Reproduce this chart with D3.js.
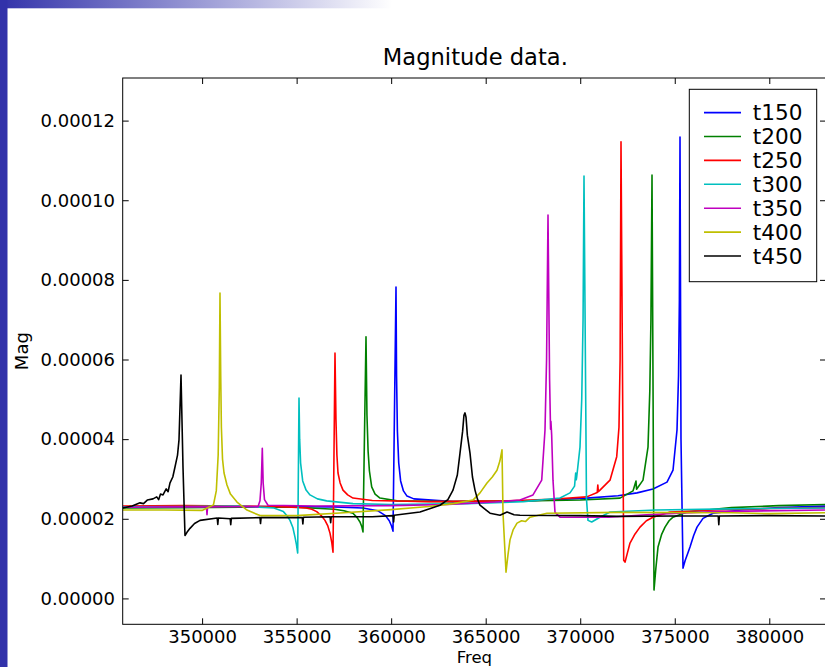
<!DOCTYPE html>
<html>
<head>
<meta charset="utf-8">
<script src="https://cdn.jsdelivr.net/npm/d3@7"></script>
<style>
  html, body { margin: 0; padding: 0; background: #fff; }
  svg { display: block; }
  text { font-family: "DejaVu Sans", sans-serif; fill: #000; }
</style>
</head>
<body>
<svg id="chart" width="825" height="667"></svg>
<script>
// ---------- data (Freq, Mag) ----------
const seriesNames = ["t150", "t200", "t250", "t300", "t350", "t400", "t450"];
const seriesColors = ["#0000ff", "#008000", "#ff0000", "#00bfbf", "#bf00bf", "#bfbf00", "#000000"];

const t150 = [
  [345800, 2.29e-5], [348000, 2.30e-5], [351000, 2.31e-5], [354000, 2.31e-5], [357000, 2.30e-5],
  [358500, 2.27e-5], [359300, 2.20e-5], [359700, 2.08e-5], [359900, 1.95e-5], [360020, 1.82e-5],
  [360097, 1.69e-5], [360256, 7.82e-5], [360285, 5.6e-5], [360330, 4.2e-5], [360400, 3.4e-5],
  [360500, 2.95e-5], [360650, 2.70e-5], [360838, 2.57e-5], [361200, 2.50e-5], [363271, 2.43e-5],
  [366815, 2.44e-5], [370343, 2.52e-5], [372000, 2.58e-5], [373003, 2.65e-5], [373850, 2.75e-5],
  [374590, 2.92e-5], [374908, 3.22e-5], [375119, 4.23e-5], [375200, 5.6e-5], [375245, 7.5e-5],
  [375278, 11.59e-5], [375330, 4.0e-5], [375437, 0.76e-5], [375550, 0.95e-5], [375680, 1.12e-5],
  [375807, 1.29e-5], [376000, 1.58e-5], [376178, 1.79e-5], [376495, 2.01e-5], [377024, 2.14e-5],
  [378500, 2.22e-5], [380500, 2.28e-5], [383000, 2.32e-5]
];
const t200 = [
  [345800, 2.27e-5], [349000, 2.28e-5], [352000, 2.29e-5], [355000, 2.29e-5], [357000, 2.24e-5],
  [357500, 2.20e-5], [357981, 2.14e-5], [358200, 2.03e-5], [358351, 1.92e-5], [358450, 1.80e-5],
  [358510, 1.67e-5], [358669, 6.57e-5], [358720, 4.6e-5], [358780, 3.7e-5], [358850, 3.2e-5],
  [358970, 2.80e-5], [359150, 2.62e-5], [359409, 2.52e-5], [360309, 2.45e-5], [363000, 2.43e-5],
  [367000, 2.45e-5], [370000, 2.47e-5], [372104, 2.52e-5], [372792, 2.70e-5], [372950, 2.95e-5],
  [372980, 2.74e-5], [373321, 2.97e-5], [373585, 3.80e-5], [373680, 5.2e-5], [373740, 7.0e-5],
  [373797, 10.63e-5], [373903, 0.21e-5], [374000, 0.75e-5], [374114, 1.29e-5], [374300, 1.60e-5],
  [374485, 1.79e-5], [374700, 1.95e-5], [374908, 2.04e-5], [375648, 2.17e-5], [378000, 2.28e-5],
  [380500, 2.33e-5], [383000, 2.36e-5]
];
const t250 = [
  [345800, 2.32e-5], [349000, 2.33e-5], [352000, 2.32e-5], [354500, 2.30e-5], [355500, 2.27e-5],
  [355800, 2.24e-5], [356061, 2.18e-5], [356300, 2.08e-5], [356500, 1.96e-5], [356650, 1.82e-5],
  [356764, 1.64e-5], [356860, 1.40e-5], [356924, 1.16e-5], [357029, 6.16e-5], [357080, 4.5e-5],
  [357130, 3.6e-5], [357188, 3.15e-5], [357300, 2.90e-5], [357452, 2.72e-5], [357700, 2.60e-5],
  [357981, 2.52e-5], [359000, 2.46e-5], [362000, 2.43e-5], [366000, 2.45e-5], [368500, 2.49e-5],
  [370343, 2.55e-5], [370900, 2.66e-5], [370930, 2.85e-5], [370960, 2.68e-5], [371046, 2.72e-5],
  [371575, 2.97e-5], [371930, 3.56e-5], [372050, 4.3e-5], [372110, 6.0e-5], [372157, 11.47e-5],
  [372300, 0.96e-5], [372369, 0.91e-5], [372500, 1.15e-5], [372633, 1.39e-5], [372900, 1.62e-5],
  [373162, 1.79e-5], [373500, 1.95e-5], [373850, 2.04e-5], [374749, 2.17e-5], [377000, 2.22e-5],
  [380000, 2.26e-5], [383000, 2.28e-5]
];
const t300 = [
  [345800, 2.30e-5], [349000, 2.31e-5], [352000, 2.32e-5], [353800, 2.27e-5], [354300, 2.18e-5],
  [354500, 2.07e-5], [354649, 1.96e-5], [354800, 1.78e-5], [354913, 1.54e-5], [354990, 1.35e-5],
  [355056, 1.14e-5], [355125, 5.03e-5], [355160, 4.0e-5], [355210, 3.4e-5], [355321, 2.95e-5],
  [355500, 2.72e-5], [355707, 2.60e-5], [356100, 2.50e-5], [356590, 2.45e-5], [357981, 2.38e-5],
  [360000, 2.36e-5], [364000, 2.38e-5], [367000, 2.43e-5], [368930, 2.52e-5], [369459, 2.65e-5],
  [369700, 2.82e-5], [369760, 3.15e-5], [369790, 2.98e-5], [369814, 3.05e-5], [369988, 3.80e-5],
  [370080, 5.0e-5], [370150, 7.0e-5], [370200, 10.61e-5], [370330, 2.5e-5], [370412, 1.96e-5],
  [370607, 1.92e-5], [371046, 2.04e-5], [371575, 2.17e-5], [374000, 2.22e-5], [378000, 2.25e-5],
  [383000, 2.27e-5]
];
const t350 = [
  [345800, 2.29e-5], [348500, 2.30e-5], [350230, 2.30e-5], [350259, 2.10e-5], [350290, 2.30e-5],
  [352500, 2.31e-5], [352956, 2.30e-5], [353060, 2.45e-5], [353130, 2.9e-5], [353184, 3.77e-5],
  [353230, 2.9e-5], [353300, 2.48e-5], [353485, 2.34e-5], [356000, 2.32e-5], [360000, 2.33e-5],
  [363000, 2.36e-5], [365500, 2.42e-5], [366815, 2.47e-5], [367503, 2.60e-5], [367963, 2.97e-5],
  [368137, 4.23e-5], [368220, 6.0e-5], [368296, 9.63e-5], [368380, 5.5e-5], [368430, 4.25e-5],
  [368450, 4.45e-5], [368490, 4.1e-5], [368560, 2.97e-5], [368666, 2.16e-5], [368930, 2.04e-5],
  [371500, 2.04e-5], [373500, 2.10e-5], [377000, 2.18e-5], [383000, 2.22e-5]
];
const t400 = [
  [345800, 2.22e-5], [348000, 2.22e-5], [350000, 2.21e-5], [350600, 2.35e-5], [350750, 2.70e-5],
  [350850, 3.6e-5], [350910, 5.3e-5], [350946, 7.67e-5], [350985, 5.6e-5], [351020, 4.3e-5],
  [351080, 3.5e-5], [351160, 3.15e-5], [351316, 2.85e-5], [351500, 2.62e-5], [351845, 2.42e-5],
  [352374, 2.22e-5], [353062, 2.08e-5], [355000, 2.08e-5], [357500, 2.15e-5], [360000, 2.23e-5],
  [362000, 2.31e-5], [363300, 2.38e-5], [364328, 2.47e-5], [364700, 2.65e-5], [365069, 2.90e-5],
  [365350, 3.05e-5], [365598, 3.22e-5], [365750, 3.45e-5], [365863, 3.73e-5], [365916, 2.14e-5],
  [366075, 0.66e-5], [366180, 1.10e-5], [366286, 1.47e-5], [366450, 1.72e-5], [366657, 1.89e-5],
  [366900, 1.95e-5], [367100, 1.93e-5], [367344, 2.04e-5], [368243, 2.14e-5], [372000, 2.16e-5],
  [378000, 2.15e-5], [380000, 2.13e-5], [383000, 2.15e-5]
];
const t450 = [
  [345800, 2.27e-5], [346300, 2.32e-5], [346715, 2.40e-5], [346900, 2.38e-5], [347100, 2.47e-5],
  [347403, 2.50e-5], [347600, 2.55e-5], [347700, 2.48e-5], [347800, 2.62e-5], [347932, 2.60e-5],
  [348100, 2.75e-5], [348200, 2.68e-5], [348302, 2.90e-5], [348450, 3.05e-5], [348566, 3.30e-5],
  [348700, 3.6e-5], [348778, 3.98e-5], [348884, 5.61e-5], [348989, 3.30e-5], [349095, 1.58e-5],
  [349200, 1.66e-5], [349360, 1.76e-5], [349600, 1.88e-5], [349889, 1.96e-5], [350800, 2.02e-5],
  [350830, 1.86e-5], [350860, 2.02e-5], [351485, 2.00e-5], [351515, 1.85e-5], [351545, 2.01e-5],
  [353062, 2.03e-5], [353090, 1.88e-5], [353120, 2.03e-5], [355300, 2.03e-5], [355330, 1.87e-5],
  [355360, 2.04e-5], [356770, 2.05e-5], [356800, 1.90e-5], [356830, 2.05e-5], [359000, 2.05e-5],
  [360100, 2.08e-5], [360130, 1.92e-5], [360160, 2.09e-5], [361525, 2.17e-5], [362583, 2.34e-5],
  [363000, 2.48e-5], [363271, 2.72e-5], [363500, 3.10e-5], [363641, 3.65e-5], [363780, 4.20e-5],
  [363850, 4.60e-5], [363905, 4.66e-5], [363960, 4.55e-5], [364030, 4.10e-5], [364170, 3.65e-5],
  [364300, 3.05e-5], [364434, 2.72e-5], [364560, 2.50e-5], [364699, 2.34e-5], [365228, 2.14e-5],
  [365757, 2.09e-5], [366128, 2.17e-5], [366500, 2.10e-5], [366815, 2.09e-5], [370000, 2.08e-5],
  [372000, 2.06e-5], [375000, 2.07e-5], [377300, 2.07e-5], [377330, 1.85e-5], [377360, 2.07e-5],
  [380000, 2.08e-5], [383000, 2.07e-5]
];
const seriesData = [t150, t200, t250, t300, t350, t400, t450];

const xTicks = [350000, 355000, 360000, 365000, 370000, 375000, 380000];
const yTicks = [0, 0.00002, 0.00004, 0.00006, 0.00008, 0.00010, 0.00012];
const xDomain = [345800, 383000];
const yDomain = [-0.0000065, 0.0001307];
const titleText = "Magnitude data.";
const xLabel = "Freq";
const yLabel = "Mag";

// ---------- layout ----------
const svg = d3.select("#chart");
const L = 122.7, R = 826, T = 78, B = 624.3;

// slide decorations
const defs = svg.append("defs");
const grad = defs.append("linearGradient").attr("id", "topgrad")
  .attr("x1", "0%").attr("x2", "100%").attr("y1", "0%").attr("y2", "0%");
grad.append("stop").attr("offset", "0%").attr("stop-color", "#3232aa");
grad.append("stop").attr("offset", "100%").attr("stop-color", "#ffffff");
svg.append("rect").attr("x", 0).attr("y", 0).attr("width", 392).attr("height", 8.3).attr("fill", "url(#topgrad)");
svg.append("rect").attr("x", 0).attr("y", 0).attr("width", 7.5).attr("height", 667).attr("fill", "#3232aa");

defs.append("clipPath").attr("id", "plotclip").append("rect")
  .attr("x", L).attr("y", T).attr("width", R - L).attr("height", B - T);

const x = d3.scaleLinear().domain(xDomain).range([L, R]);
const y = d3.scaleLinear().domain(yDomain).range([B, T]);

// lines
const line = d3.line().x(d => x(d[0])).y(d => y(d[1]));
const gLines = svg.append("g").attr("clip-path", "url(#plotclip)");
seriesData.forEach((s, i) => {
  gLines.append("path").datum(s).attr("d", line)
    .attr("fill", "none").attr("stroke", seriesColors[i])
    .attr("stroke-width", 1.6).attr("stroke-linejoin", "round");
});

// axes (inward ticks on all four sides)
const fs = 18;
const gx = svg.append("g").attr("transform", `translate(0,${B})`)
  .call(d3.axisBottom(x).tickValues(xTicks).tickFormat(d3.format("d"))
    .tickSizeInner(-6).tickSizeOuter(0).tickPadding(5.5));
const gy = svg.append("g").attr("transform", `translate(${L},0)`)
  .call(d3.axisLeft(y).tickValues(yTicks).tickFormat(d3.format(".5f"))
    .tickSizeInner(-6).tickSizeOuter(0).tickPadding(7.7));
const gt = svg.append("g").attr("transform", `translate(0,${T})`)
  .call(d3.axisTop(x).tickValues(xTicks).tickFormat("").tickSizeInner(-6).tickSizeOuter(0));
const gr = svg.append("g").attr("transform", `translate(${R},0)`)
  .call(d3.axisRight(y).tickValues(yTicks).tickFormat("").tickSizeInner(-6).tickSizeOuter(0));
[gx, gy, gt, gr].forEach(g => {
  g.select(".domain").remove();
  g.selectAll("line").attr("stroke", "#000").attr("stroke-width", 1);
  g.selectAll("text").style("font-family", "DejaVu Sans").style("font-size", fs + "px").attr("fill", "#000");
});

// frame
svg.append("rect").attr("x", L).attr("y", T).attr("width", R - L).attr("height", B - T)
  .attr("fill", "none").attr("stroke", "#000").attr("stroke-width", 1);

// title and labels
svg.append("text").attr("x", (L + R) / 2 + 1).attr("y", 65).attr("text-anchor", "middle")
  .style("font-size", "22.6px").text(titleText);
svg.append("text").attr("x", (L + R) / 2).attr("y", 663).attr("text-anchor", "middle")
  .style("font-size", "16.5px").text(xLabel);
svg.append("text").attr("transform", `translate(28,${(T + B) / 2}) rotate(-90)`)
  .attr("text-anchor", "middle").style("font-size", fs + "px").text(yLabel);

// legend
const lg = svg.append("g");
lg.append("rect").attr("x", 689.3).attr("y", 89.3).attr("width", 127.4).attr("height", 192.4)
  .attr("fill", "#fff").attr("stroke", "#000").attr("stroke-width", 1);
seriesNames.forEach((n, i) => {
  const yy = 112.6 + i * 23.9;
  lg.append("line").attr("x1", 704).attr("x2", 741).attr("y1", yy).attr("y2", yy)
    .attr("stroke", seriesColors[i]).attr("stroke-width", 1.6);
  lg.append("text").attr("x", 752.7).attr("y", yy).attr("dy", "0.36em")
    .style("font-size", "21.6px").text(n);
});
</script>
</body>
</html>
